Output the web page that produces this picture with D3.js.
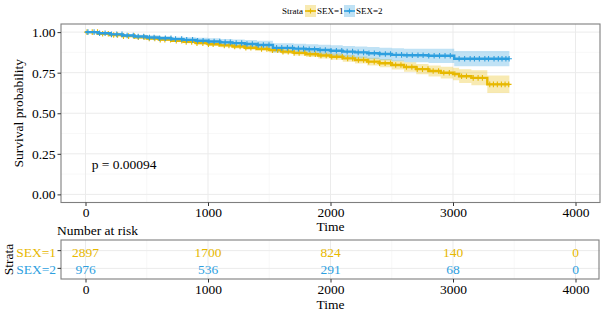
<!DOCTYPE html>
<html>
<head>
<meta charset="utf-8">
<script src="https://cdn.jsdelivr.net/npm/d3@7"></script>
<style>
  html, body { margin: 0; padding: 0; background: #fff; }
  svg { display: block; }
  text { font-family: "Liberation Serif", "Times New Roman", serif; }
</style>
</head>
<body>
<script>
// ---------------- DATA ----------------
const strata = ["SEX=1", "SEX=2"];
const colors = ["#E7B800", "#2E9FDF"];

// Kaplan-Meier step points (time, survival) per stratum
const times1 = [0, 100, 200, 300, 400, 500, 600, 700, 800, 900, 1000, 1100, 1200, 1300, 1400, 1500, 1600, 1700, 1800, 1900, 2000, 2100, 2200, 2300, 2400, 2500, 2600, 2700, 2800, 2900, 3000, 3050, 3150, 3280, 3460];
const surv1  = [1.0, 0.990, 0.982, 0.975, 0.968, 0.961, 0.954, 0.947, 0.940, 0.932, 0.925, 0.918, 0.911, 0.904, 0.897, 0.889, 0.880, 0.872, 0.864, 0.856, 0.848, 0.838, 0.828, 0.818, 0.808, 0.797, 0.785, 0.772, 0.760, 0.750, 0.742, 0.728, 0.718, 0.678, 0.678];
const lower1 = [1.0, 0.987, 0.978, 0.970, 0.962, 0.955, 0.947, 0.939, 0.931, 0.923, 0.915, 0.907, 0.899, 0.891, 0.883, 0.875, 0.865, 0.856, 0.847, 0.838, 0.829, 0.818, 0.807, 0.795, 0.783, 0.770, 0.756, 0.741, 0.727, 0.714, 0.703, 0.686, 0.672, 0.625, 0.625];
const upper1 = [1.0, 0.994, 0.987, 0.980, 0.974, 0.968, 0.961, 0.955, 0.948, 0.941, 0.935, 0.929, 0.923, 0.917, 0.911, 0.904, 0.896, 0.889, 0.882, 0.875, 0.868, 0.859, 0.850, 0.842, 0.834, 0.825, 0.815, 0.804, 0.794, 0.786, 0.781, 0.771, 0.765, 0.733, 0.733];

const times2 = [0, 100, 200, 300, 400, 500, 600, 700, 800, 900, 1000, 1100, 1200, 1300, 1400, 1530, 1700, 1800, 1900, 2000, 2100, 2200, 2300, 2400, 2500, 2600, 2800, 3010, 3460];
const surv2  = [1.0, 0.993, 0.986, 0.979, 0.973, 0.967, 0.962, 0.957, 0.952, 0.947, 0.942, 0.937, 0.932, 0.927, 0.921, 0.903, 0.898, 0.894, 0.890, 0.885, 0.880, 0.875, 0.870, 0.865, 0.860, 0.857, 0.854, 0.836, 0.836];
const lower2 = [1.0, 0.988, 0.979, 0.970, 0.962, 0.955, 0.948, 0.941, 0.935, 0.928, 0.922, 0.915, 0.909, 0.902, 0.895, 0.875, 0.868, 0.863, 0.857, 0.851, 0.845, 0.839, 0.833, 0.826, 0.820, 0.815, 0.810, 0.790, 0.790];
const upper2 = [1.0, 0.998, 0.993, 0.988, 0.984, 0.980, 0.976, 0.972, 0.969, 0.965, 0.962, 0.958, 0.955, 0.951, 0.947, 0.931, 0.928, 0.925, 0.922, 0.919, 0.915, 0.912, 0.908, 0.904, 0.900, 0.898, 0.897, 0.883, 0.883];

// censoring times per stratum
const censor1 = [12, 55, 98, 140, 186, 230, 262, 310, 352, 398, 431, 478, 520, 566, 610, 648, 694, 741, 786, 822, 867, 910, 958, 1004, 1042, 1090, 1133, 1171, 1218, 1262, 1309, 1350, 1392, 1437, 1481, 1526, 1569, 1612, 1655, 1703, 1744, 1790, 1833, 1876, 1922, 1965, 2010, 2051, 2096, 2140, 2181, 2228, 2270, 2312, 2357, 2401, 2446, 2490, 2532, 2575, 2620, 2664, 2708, 2751, 2796, 2838, 2882, 2925, 2970, 3015, 3070, 3110, 3165, 3205, 3240, 3300, 3330, 3362, 3395, 3425, 3455];
const censor2 = [20, 70, 115, 160, 212, 255, 298, 340, 390, 430, 475, 522, 560, 605, 652, 698, 735, 785, 826, 874, 915, 960, 1008, 1050, 1096, 1140, 1182, 1230, 1275, 1318, 1362, 1410, 1452, 1498, 1560, 1602, 1648, 1690, 1738, 1780, 1826, 1870, 1915, 1958, 2004, 2048, 2092, 2136, 2180, 2226, 2270, 2314, 2358, 2402, 2448, 2490, 2536, 2580, 2624, 2668, 2714, 2756, 2802, 2846, 2890, 2935, 2978, 3050, 3095, 3140, 3175, 3215, 3260, 3290, 3335, 3370, 3400, 3432, 3458];

// number at risk table
const riskTimes = [0, 1000, 2000, 3000, 4000];
const risk1 = [2897, 1700, 824, 140, 0];
const risk2 = [976, 536, 291, 68, 0];

const xTicks = [0, 1000, 2000, 3000, 4000];
const xMinor = [500, 1500, 2500, 3500];
const yTicks = [0, 0.25, 0.5, 0.75, 1.0];
const yMinor = [0.125, 0.375, 0.625, 0.875];
const pText = "p = 0.00094";

// ---------------- DRAW ----------------
const W = 604, H = 311;
const svg = d3.select("body").append("svg").attr("width", W).attr("height", H);

const M = { left: 61, right: 600, top: 24, bottom: 202.5 };
const x = d3.scaleLinear().domain([-200, 4200]).range([M.left, M.right]);
const y = d3.scaleLinear().domain([-0.05, 1.05]).range([M.bottom, M.top]);

const gridMajor = "#EBEBEB", gridMinor = "#F4F4F4";
const borderCol = "#7F7F7F";
const fontSize = 13.5;

// grid
const g = svg.append("g");
g.selectAll(".ym").data(yMinor).join("line")
  .attr("x1", M.left).attr("x2", M.right).attr("y1", d => y(d)).attr("y2", d => y(d))
  .attr("stroke", gridMinor).attr("stroke-width", 0.6);
g.selectAll(".xm").data(xMinor).join("line")
  .attr("y1", M.top).attr("y2", M.bottom).attr("x1", d => x(d)).attr("x2", d => x(d))
  .attr("stroke", gridMinor).attr("stroke-width", 0.6);
g.selectAll(".yM").data(yTicks).join("line")
  .attr("x1", M.left).attr("x2", M.right).attr("y1", d => y(d)).attr("y2", d => y(d))
  .attr("stroke", gridMajor).attr("stroke-width", 1);
g.selectAll(".xM").data(xTicks).join("line")
  .attr("y1", M.top).attr("y2", M.bottom).attr("x1", d => x(d)).attr("x2", d => x(d))
  .attr("stroke", gridMajor).attr("stroke-width", 1);

// curves
const series = [
  { t: times1, s: surv1, lo: lower1, hi: upper1, c: censor1, col: colors[0] },
  { t: times2, s: surv2, lo: lower2, hi: upper2, c: censor2, col: colors[1] }
];

const area = d3.area().curve(d3.curveStepAfter)
  .x(d => x(d.t)).y0(d => y(d.lo)).y1(d => y(d.hi));
const line = d3.line().curve(d3.curveStepAfter)
  .x(d => x(d.t)).y(d => y(d.s));

series.forEach(S => {
  S.pts = S.t.map((t, i) => ({ t, s: S.s[i], lo: S.lo[i], hi: S.hi[i] }));
});
series.forEach(S => {
  svg.append("path").datum(S.pts).attr("d", area)
    .attr("fill", S.col).attr("fill-opacity", 0.3).attr("stroke", "none");
});
series.forEach(S => {
  svg.append("path").datum(S.pts).attr("d", line)
    .attr("fill", "none").attr("stroke", S.col).attr("stroke-width", 2.4);
  const bis = d3.bisector(d => d).right;
  const cg = svg.append("g");
  S.c.forEach(ct => {
    const i = Math.max(0, bis(S.t, ct) - 1);
    const cx = x(ct), cy = y(S.s[i]);
    cg.append("path")
      .attr("d", `M${cx - 2.8},${cy}H${cx + 2.8}M${cx},${cy - 2.8}V${cy + 2.8}`)
      .attr("stroke", S.col).attr("stroke-width", 1.1).attr("fill", "none");
  });
});

// panel border
svg.append("rect").attr("x", M.left).attr("y", M.top)
  .attr("width", M.right - M.left).attr("height", M.bottom - M.top)
  .attr("fill", "none").attr("stroke", borderCol).attr("stroke-width", 1.1);

// axes
const yAxis = svg.append("g").attr("transform", `translate(${M.left},0)`)
  .call(d3.axisLeft(y).tickValues(yTicks).tickFormat(d3.format(".2f")).tickSize(3.5).tickPadding(2));
const xAxis = svg.append("g").attr("transform", `translate(0,${M.bottom})`)
  .call(d3.axisBottom(x).tickValues(xTicks).tickFormat(d3.format("d")).tickSize(3.5).tickPadding(1.5));
[yAxis, xAxis].forEach(a => {
  a.select(".domain").remove();
  a.selectAll(".tick line").attr("stroke", "#333");
  a.selectAll("text").attr("font-size", fontSize).attr("fill", "#000")
    .attr("font-family", "Liberation Serif");
});

svg.append("text").attr("transform", `translate(23,${(M.top + M.bottom) / 2}) rotate(-90)`)
  .attr("text-anchor", "middle").attr("font-size", fontSize).text("Survival probability");
svg.append("text").attr("x", (M.left + M.right) / 2).attr("y", 231)
  .attr("text-anchor", "middle").attr("font-size", fontSize).text("Time");
svg.append("text").attr("x", x(50)).attr("y", 169)
  .attr("font-size", fontSize).text(pText);

// legend
const lg = svg.append("g");
const legY = 11;
const legFont = 9;
lg.append("text").attr("x", 282).attr("y", legY).attr("dominant-baseline", "central")
  .attr("font-size", legFont).text("Strata");
const keyX = [305, 344];
const labX = [317, 356];
strata.forEach((s, i) => {
  lg.append("rect").attr("x", keyX[i]).attr("y", legY - 6).attr("width", 11).attr("height", 12)
    .attr("fill", colors[i]).attr("fill-opacity", 0.3);
  lg.append("line").attr("x1", keyX[i]).attr("x2", keyX[i] + 11).attr("y1", legY).attr("y2", legY)
    .attr("stroke", colors[i]).attr("stroke-width", 1.6);
  const cx = keyX[i] + 5.5;
  lg.append("path").attr("d", `M${cx - 2.6},${legY}H${cx + 2.6}M${cx},${legY - 2.6}V${legY + 2.6}`)
    .attr("stroke", colors[i]).attr("stroke-width", 1.1);
  lg.append("text").attr("x", labX[i]).attr("y", legY).attr("dominant-baseline", "central")
    .attr("font-size", legFont).text(s);
});

// ---------------- RISK TABLE ----------------
const R = { top: 240, bottom: 279 };
const yr = d3.scaleLinear().domain([0.4, 2.6]).range([R.bottom, R.top]);
const rowPos = [2, 1];
const rg = svg.append("g");
rg.selectAll(".rxm").data(xMinor).join("line")
  .attr("y1", R.top).attr("y2", R.bottom).attr("x1", d => x(d)).attr("x2", d => x(d))
  .attr("stroke", gridMinor).attr("stroke-width", 0.6);
rg.selectAll(".rxM").data(xTicks).join("line")
  .attr("y1", R.top).attr("y2", R.bottom).attr("x1", d => x(d)).attr("x2", d => x(d))
  .attr("stroke", gridMajor).attr("stroke-width", 1);
rg.selectAll(".ryM").data(rowPos).join("line")
  .attr("x1", M.left).attr("x2", M.right).attr("y1", d => yr(d)).attr("y2", d => yr(d))
  .attr("stroke", gridMajor).attr("stroke-width", 1);

const riskRows = [risk1, risk2];
riskRows.forEach((row, i) => {
  rg.selectAll(null).data(row).join("text")
    .attr("x", (d, j) => x(riskTimes[j])).attr("y", yr(rowPos[i]) + 1.5)
    .attr("text-anchor", "middle").attr("dominant-baseline", "central")
    .attr("font-size", fontSize).attr("fill", colors[i]).text(d => d);
});

svg.append("rect").attr("x", M.left).attr("y", R.top)
  .attr("width", M.right - M.left - 1).attr("height", R.bottom - R.top)
  .attr("fill", "none").attr("stroke", borderCol).attr("stroke-width", 1.1);

const rxAxis = svg.append("g").attr("transform", `translate(0,${R.bottom})`)
  .call(d3.axisBottom(x).tickValues(xTicks).tickFormat(d3.format("d")).tickSize(3.5).tickPadding(1.5));
rxAxis.select(".domain").remove();
rxAxis.selectAll(".tick line").attr("stroke", "#333");
rxAxis.selectAll("text").attr("font-size", fontSize).attr("fill", "#000")
  .attr("font-family", "Liberation Serif");

// y ticks + strata labels
strata.forEach((s, i) => {
  svg.append("line").attr("x1", M.left - 3.5).attr("x2", M.left)
    .attr("y1", yr(rowPos[i])).attr("y2", yr(rowPos[i])).attr("stroke", "#333");
  svg.append("text").attr("x", M.left - 5).attr("y", yr(rowPos[i]) + 1.5)
    .attr("text-anchor", "end").attr("dominant-baseline", "central")
    .attr("font-size", fontSize).attr("fill", colors[i]).text(s);
});
svg.append("text").attr("transform", `translate(13,${(R.top + R.bottom) / 2}) rotate(-90)`)
  .attr("text-anchor", "middle").attr("font-size", fontSize).text("Strata");
svg.append("text").attr("x", 57).attr("y", 235).attr("font-size", fontSize).text("Number at risk");
svg.append("text").attr("x", (M.left + M.right) / 2).attr("y", 308.5)
  .attr("text-anchor", "middle").attr("font-size", fontSize).text("Time");
</script>
</body>
</html>
